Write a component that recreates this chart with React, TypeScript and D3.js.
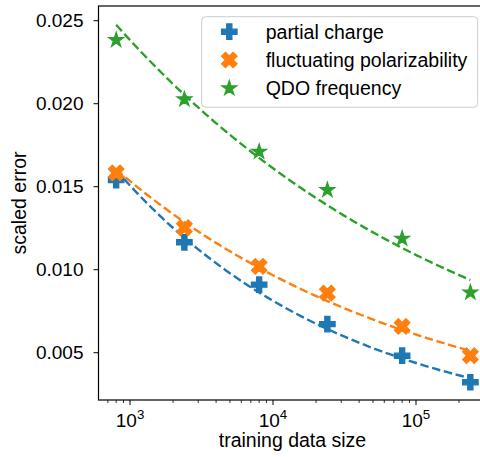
import React from "react";
import * as d3 from "d3";

const sizes = [800, 2400, 8000, 24000, 80000, 240000];
const partialCharge = [0.0154, 0.01165, 0.0091, 0.00672, 0.00482, 0.00322];
const fluctPolar = [0.01583, 0.01253, 0.0102, 0.00859, 0.00658, 0.00482];
const qdoFreq = [0.02384, 0.02026, 0.01711, 0.0148, 0.01187, 0.00863];
const seriesNames = ["partial charge", "fluctuating polarizability", "QDO frequency"];
const seriesColors = ["#1f77b4", "#ff7f0e", "#2ca02c"];
const seriesMarkers = ["P", "X", "*"];
const yTicks = [0.005, 0.01, 0.015, 0.02, 0.025];
const xTicks = [1e3, 1e4, 1e5];
const xTickExps = ["3", "4", "5"];

const W = 480, H = 457;
const L = 98.5, R = 486.5, T = 6, B = 400;
const FONT = "'Liberation Sans', Arial, Helvetica, sans-serif";
const FS = 19.5;
const TFS = 19;
const MS = 15.4;
const MEW = 1.3;

const x = d3.scaleLog().domain([602, 311200]).range([L, R]);
const y = d3.scaleLinear().domain([0.002151, 0.025886]).range([B, T]);

function markerPath(kind: string, s: number): string {
  if (kind === "P") {
    const v = [[-1, -3], [1, -3], [1, -1], [3, -1], [3, 1], [1, 1], [1, 3], [-1, 3], [-1, 1], [-3, 1], [-3, -1], [-1, -1]];
    return "M" + v.map(p => `${(p[0] / 6) * s},${(p[1] / 6) * s}`).join("L") + "Z";
  }
  if (kind === "X") {
    const v = [[-1, -2], [0, -1], [1, -2], [2, -1], [1, 0], [2, 1], [1, 2], [0, 1], [-1, 2], [-2, 1], [-1, 0], [-2, -1]];
    return "M" + v.map(p => `${(p[0] / 4) * s},${(p[1] / 4) * s}`).join("L") + "Z";
  }
  const pts: string[] = [];
  const ro = s / 2, ri = ro * 0.381966;
  for (let i = 0; i < 10; i++) {
    const a = (i * Math.PI) / 5;
    const r = i % 2 === 0 ? ro : ri;
    pts.push(`${r * Math.sin(a)},${-r * Math.cos(a)}`);
  }
  return "M" + pts.join("L") + "Z";
}

function powerFit(xs: number[], ys: number[]) {
  const lx = xs.map(Math.log), ly = ys.map(Math.log);
  const mx = d3.mean(lx)!, my = d3.mean(ly)!;
  let sxy = 0, sxx = 0;
  lx.forEach((v, i) => { sxy += (v - mx) * (ly[i] - my); sxx += (v - mx) ** 2; });
  const b = sxy / sxx;
  const a = my - b * mx;
  return (v: number) => Math.exp(a + b * Math.log(v));
}

export default function App() {
  const data = [partialCharge, fluctPolar, qdoFreq];
  const xmin = d3.min(sizes)!, xmax = d3.max(sizes)!;
  const samples = d3.range(0, 101).map(i => Math.exp(Math.log(xmin) + (i / 100) * (Math.log(xmax) - Math.log(xmin))));
  const line = d3.line<[number, number]>().x(d => x(d[0])).y(d => y(d[1]));

  const minorTicks: number[] = [];
  for (let e = 2; e <= 5; e++) for (let m = 2; m <= 9; m++) {
    const v = m * Math.pow(10, e);
    if (x(v) >= L && x(v) <= W) minorTicks.push(v);
  }

  return (
    <svg width={W} height={H} style={{ position: "absolute", left: 0, top: 0 }} fontFamily={FONT}>
      <rect width={W} height={H} fill="white" />
      <defs>
        <clipPath id="plotclip"><rect x={L} y={T} width={R - L} height={B - T} /></clipPath>
      </defs>
      <g clipPath="url(#plotclip)">
        {data.map((ys, si) => {
          const f = powerFit(sizes, ys);
          const pts = samples.map(v => [v, f(v)] as [number, number]);
          return (
            <g key={si}>
              {sizes.map((s, i) => (
                <path key={i} d={markerPath(seriesMarkers[si], MS)} transform={`translate(${x(s)},${y(ys[i])})`} fill={seriesColors[si]} stroke={seriesColors[si]} strokeWidth={MEW} strokeLinejoin="miter" />
              ))}
              <path d={line(pts)!} fill="none" stroke={seriesColors[si]} strokeWidth={2.4} strokeDasharray="8.5,3.7" />
            </g>
          );
        })}
      </g>
      {/* spines */}
      <rect x={L} y={T} width={R - L} height={B - T} fill="none" stroke="#000" strokeWidth={1.2} />
      {/* y ticks */}
      {yTicks.map(t => (
        <g key={t}>
          <line x1={L - 5} x2={L} y1={y(t)} y2={y(t)} stroke="#000" strokeWidth={1} />
          <text x={83.5} y={y(t)} dy="0.35em" textAnchor="end" fontSize={TFS}>{t.toFixed(3)}</text>
        </g>
      ))}
      {/* x ticks */}
      {xTicks.map((t, i) => (
        <g key={t}>
          <line x1={x(t)} x2={x(t)} y1={B} y2={B + 5} stroke="#000" strokeWidth={1} />
          <text x={x(t)} y={426.7} textAnchor="middle" fontSize={TFS}>10<tspan fontSize={TFS * 0.7} dy={-7.5}>{xTickExps[i]}</tspan></text>
        </g>
      ))}
      {minorTicks.map(t => (
        <line key={t} x1={x(t)} x2={x(t)} y1={B} y2={B + 3} stroke="#000" strokeWidth={0.8} />
      ))}
      <text x={(L + R) / 2} y={447} textAnchor="middle" fontSize={FS}>training data size</text>
      <text transform={`translate(${26},${(T + B) / 2}) rotate(-90)`} textAnchor="middle" fontSize={FS}>scaled error</text>
      {/* legend */}
      <rect x={201.7} y={16.7} width={276} height={90.6} rx={4} fill="white" fillOpacity={0.8} stroke="#cccccc" strokeWidth={1} />
      {seriesNames.map((n, i) => (
        <g key={n}>
          <path d={markerPath(seriesMarkers[i], MS)} transform={`translate(229.3,${31.7 + i * 28.3})`} fill={seriesColors[i]} stroke={seriesColors[i]} strokeWidth={MEW} />
          <text x={265.7} y={31.7 + i * 28.3} dy="0.35em" fontSize={FS}>{n}</text>
        </g>
      ))}
    </svg>
  );
}
